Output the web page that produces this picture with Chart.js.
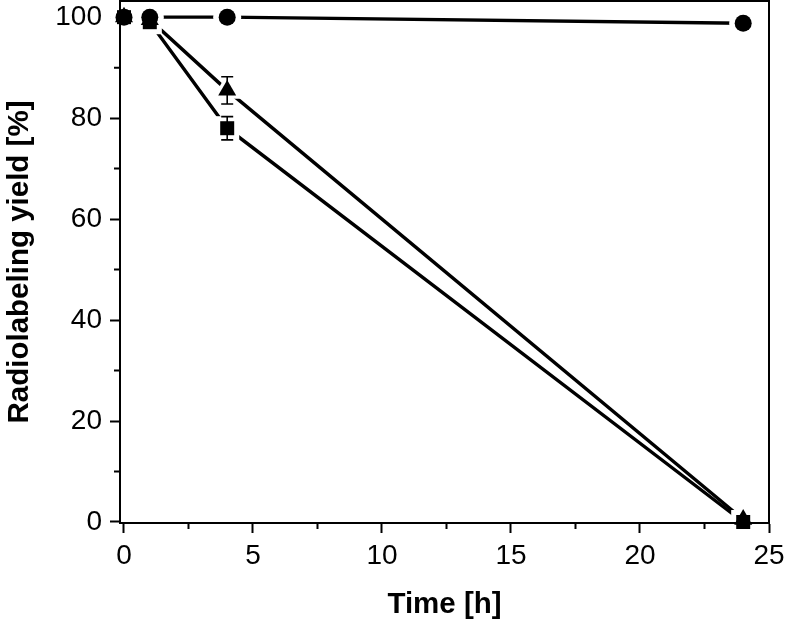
<!DOCTYPE html>
<html>
<head>
<meta charset="utf-8">
<script src="https://cdn.jsdelivr.net/npm/chart.js@4.4.1/dist/chart.umd.min.js"></script>
<style>
  html, body { margin: 0; padding: 0; background: #fff; }
  #wrap { width: 787px; height: 625px; }
</style>
</head>
<body>
<div id="wrap"><canvas id="yieldChart"></canvas></div>
<script>
// Sampling times [h]
const times = [0, 1, 4, 24];

// Radiolabeling yield [%] per series
const circleYield = [100, 100, 100, 98.8];
const triangleYield = [100, 99.5, 85.5, 0.5];
const squareYield = [100, 99, 78, 0];

// Error bars (+/-) per series, same order as times
const triangleErr = [0, 0, 2.7, 0];
const squareErr = [0, 0, 2.3, 0];

// Axis ticks
const xTicks = [0, 5, 10, 15, 20, 25];
const xMinorTicks = [2.5, 7.5, 12.5, 17.5, 22.5];
const yTicks = [0, 20, 40, 60, 80, 100];
const yMinorTicks = [10, 30, 50, 70, 90];

const toPoints = vals => times.map((t, i) => ({ x: t, y: vals[i] }));

const series = [
  { name: 'circle', style: 'circle', radius: 8.5, halo: 14, vals: circleYield, err: null },
  { name: 'triangle', style: 'triangle', radius: 10.4, halo: 17, vals: triangleYield, err: triangleErr },
  { name: 'square', style: 'rect', radius: 9.9, halo: 17, vals: squareYield, err: squareErr },
];

// lines first, then white halos (gap to symbol), then the symbols
const datasets = [];
series.forEach(s => datasets.push({
  label: s.name + ' line', data: toPoints(s.vals), order: 30, showLine: true,
  borderColor: '#000', borderWidth: 3.4, pointRadius: 0, clip: false,
}));
series.forEach(s => datasets.push({
  label: s.name + ' gap', data: toPoints(s.vals), order: 20, showLine: false,
  pointStyle: s.style, pointRadius: s.halo, pointBackgroundColor: '#fff',
  pointBorderWidth: 0, clip: false,
}));
series.forEach(s => datasets.push({
  label: s.name, data: toPoints(s.vals), order: 10, showLine: false,
  pointStyle: s.style, pointRadius: s.radius, pointBackgroundColor: '#000',
  pointBorderWidth: 0, clip: false, errors: s.err,
}));

// frame, minor ticks and error bars drawn on top
const extras = {
  id: 'extras',
  afterDatasetsDraw(chart) {
    const { ctx, chartArea: a, scales: { x, y } } = chart;
    ctx.save();
    ctx.strokeStyle = '#000';
    ctx.lineWidth = 2;
    ctx.strokeRect(a.left, a.top, a.right - a.left, a.bottom - a.top);

    ctx.beginPath();
    xMinorTicks.forEach(v => {
      const px = x.getPixelForValue(v);
      ctx.moveTo(px, a.bottom);
      ctx.lineTo(px, a.bottom + 6);
    });
    yMinorTicks.forEach(v => {
      const py = y.getPixelForValue(v);
      ctx.moveTo(a.left, py);
      ctx.lineTo(a.left - 6, py);
    });
    ctx.stroke();

    ctx.lineWidth = 1.6;
    chart.data.datasets.forEach(ds => {
      if (!ds.errors) return;
      ds.data.forEach((p, i) => {
        const e = ds.errors[i];
        if (!e) return;
        const px = x.getPixelForValue(p.x);
        const top = y.getPixelForValue(p.y + e);
        const bot = y.getPixelForValue(p.y - e);
        ctx.beginPath();
        ctx.moveTo(px, top); ctx.lineTo(px, bot);
        ctx.moveTo(px - 6, top); ctx.lineTo(px + 6, top);
        ctx.moveTo(px - 6, bot); ctx.lineTo(px + 6, bot);
        ctx.stroke();
      });
    });
    ctx.restore();
  }
};

const fontFamily = "'Liberation Sans', Arial, sans-serif";
const titleFont = { family: fontFamily, size: 29.5, weight: 'bold' };

new Chart(document.getElementById('yieldChart'), {
  type: 'scatter',
  data: { datasets },
  plugins: [extras],
  options: {
    responsive: true,
    maintainAspectRatio: false,
    animation: false,
    events: [],
    layout: { autoPadding: false, padding: { top: 1, right: 18, left: 0, bottom: 0 } },
    plugins: { legend: { display: false }, tooltip: { enabled: false } },
    scales: {
      x: {
        type: 'linear', min: -0.155, max: 25,
        afterBuildTicks: s => { s.ticks = xTicks.map(v => ({ value: v })); },
        afterFit: s => { s.height = 102; s.paddingLeft = 0; s.paddingRight = 0; },
        grid: { drawOnChartArea: false, tickLength: 10, tickWidth: 2, tickColor: '#000' },
        border: { color: '#000', width: 2 },
        ticks: { color: '#000', font: { family: fontFamily, size: 28 }, padding: 6, maxRotation: 0 },
        title: { display: true, text: 'Time [h]', color: '#000', font: titleFont, padding: { top: 0, bottom: 2 } },
      },
      y: {
        type: 'linear', min: -0.2, max: 103.2,
        afterBuildTicks: s => { s.ticks = yTicks.map(v => ({ value: v })); },
        afterFit: s => { s.width = 120; s.paddingTop = 0; s.paddingBottom = 0; },
        grid: { drawOnChartArea: false, tickLength: 10, tickWidth: 2, tickColor: '#000' },
        border: { color: '#000', width: 2 },
        ticks: { color: '#000', font: { family: fontFamily, size: 28 }, padding: 8 },
        title: { display: true, text: 'Radiolabeling yield [%]', color: '#000', font: titleFont, padding: { top: 2, bottom: 0 } },
      },
    },
  },
});
</script>
</body>
</html>
